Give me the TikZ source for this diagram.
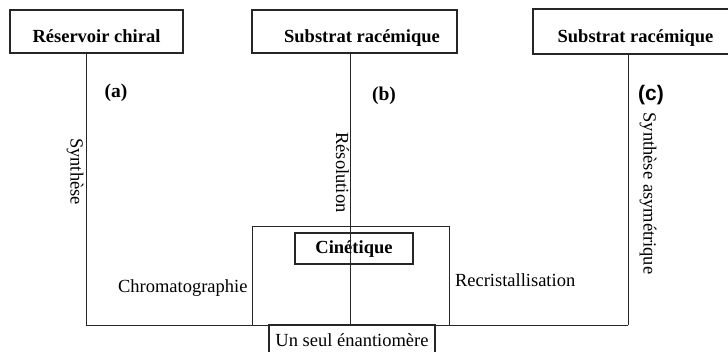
\documentclass[tikz,border=0pt]{standalone}
\usepackage{fontspec}
\setmainfont{Liberation Serif}
\newfontfamily\arialfont{Liberation Sans}
\begin{document}
\begin{tikzpicture}[x=1pt,y=-1pt,
  every node/.style={inner sep=0pt, outer sep=0pt, font=\fontsize{18.5}{22}\selectfont},
  box/.style={draw=black!85, line width=1.2pt, rectangle},
  conn/.style={draw=black!85, line width=0.9pt},
  lab/.style={}]
\useasboundingbox (0,0) rectangle (728,352);
% boxes
\node[box, minimum width=173pt, minimum height=43pt, text height=23pt, text depth=0pt] (ra) at (96.5,31.5) {\bfseries Réservoir chiral};
\node[box, minimum width=205pt, minimum height=43pt, text height=23pt, text depth=0pt] (sb) at (354.5,31.5) {\hspace*{15pt}\bfseries Substrat racémique};
\node[box, minimum width=215pt, minimum height=45pt, text height=23pt, text depth=0pt] (sc) at (640.5,31.5) {\bfseries Substrat racémique\hspace*{10pt}};
\node[box, minimum width=118pt, minimum height=31pt, text height=13pt, text depth=2pt] (cin) at (354,248.5) {\bfseries Cinétique};
\node[box, minimum width=166pt, minimum height=31pt, text height=13pt, text depth=0pt, anchor=north] (un) at (352,325) {Un seul énantiomère};
% coordinates
\coordinate (A) at (86,325);
\coordinate (B) at (350,325);
\coordinate (C) at (628,325);
\coordinate (L) at (252,325);
\coordinate (Ltop) at (252,226);
\coordinate (Rtop) at (449,226);
\coordinate (R) at (449,325);
% connectors
\draw[conn] (ra.south -| A) -- (A);
\draw[conn] (sb.south -| B) -- (B);
\draw[conn] (sc.south -| C) -- (C);
\draw[conn] (A) -- (C);
\draw[conn] (L) -- (Ltop) -- (Rtop) -- (R);
% labels
\node[lab, rotate=-90] (syn) at (75,171.5) {Synthèse};
\node[lab, rotate=-90] (res) at (342.5,172.5) {Résolution};
\node[lab, rotate=-90] (asy) at (648,193.5) {Synthèse asymétrique};
\node[lab, font=\fontsize{19.5}{22}\selectfont\bfseries] (la) at (116,93) {(a)};
\node[lab, font=\fontsize{19.5}{22}\selectfont\bfseries] (lb) at (384,96) {(b)};
\node[lab, font=\fontsize{21}{24}\selectfont\arialfont\bfseries] (lc) at (651,95) {(c)};
\node[lab, anchor=base west] (chr) at (118,293) {Chromatographie};
\node[lab, anchor=base west] (rec) at (455,287) {Recristallisation};
\end{tikzpicture}
\end{document}
